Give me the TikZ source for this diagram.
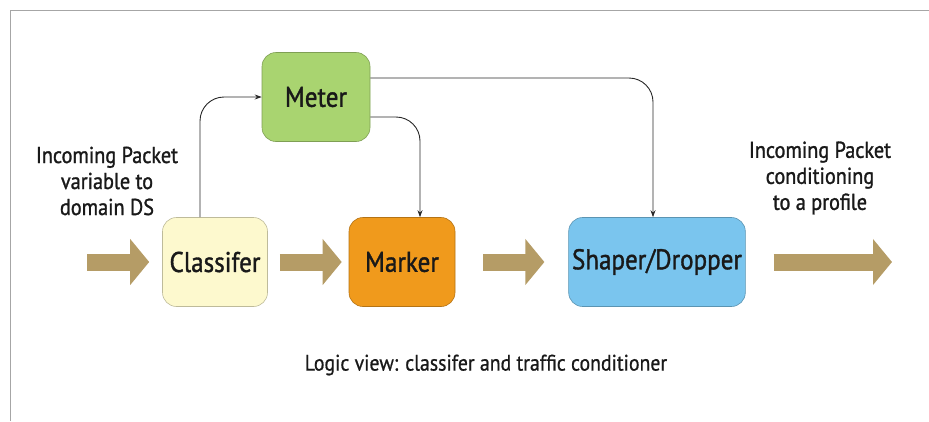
\documentclass[tikz,border=0pt]{standalone}
\usepackage{fontspec}
\setmainfont{PT Sans}[FakeBold=1.2, FakeStretch=0.88]
\newfontfamily\capfont{PT Sans}[FakeBold=0.7, FakeStretch=0.88]
\usetikzlibrary{arrows.meta}
\definecolor{meterg}{RGB}{169,212,112}
\definecolor{classy}{RGB}{253,249,206}
\definecolor{markero}{RGB}{240,154,28}
\definecolor{shaperb}{RGB}{122,197,238}
\definecolor{flowtan}{RGB}{181,156,102}
\definecolor{inkgray}{RGB}{40,40,40}

\tikzset{
  block/.style={draw=#1!75!black, fill=#1, line width=0.6pt, rounded corners=14pt,
    minimum height=89pt, text=black!90, font=\fontsize{28.5}{32}\selectfont},
  fat/.style={draw=flowtan, line width=17pt, -{Triangle[length=19pt,width=45pt]}},
  link/.style={draw=inkgray, line width=0.9pt, rounded corners=24pt, -{Stealth[length=7pt,width=5pt]}},
  sidetext/.style={align=center, text=black!90, font=\fontsize{23}{26}\selectfont}
}

\begin{document}
\begin{tikzpicture}[x=1pt, y=-1pt]
  \useasboundingbox (0,0) rectangle (929,421);
  \draw[gray!70, line width=0.8pt] (10,421) -- (10,10) -- (929,10);

  % the four stages
  \node[block=meterg, minimum width=108pt] (meter) at (316,97) {Meter};
  \node[block=classy, minimum width=105pt] (cls) at (215,262) {Classifer};
  \node[block=markero, minimum width=106pt] (mark) at (402,262) {Marker};
  \node[block=shaperb, minimum width=175pt] (shaper) at (657,262) {Shaper/Dropper};

  % packet flow
  \coordinate (in) at (87,262);
  \coordinate (out) at (892,262);
  \draw[fat, shorten >=13pt] (in) -- (cls);
  \draw[fat, shorten <=12pt, shorten >=7pt] (cls) -- (mark);
  \draw[fat, shorten <=28pt, shorten >=24pt] (mark) -- (shaper);
  \draw[fat, shorten <=28pt] (shaper) -- (out);

  % control paths
  \draw[link] ([xshift=-15pt]cls.north) |- (meter.west);
  \draw[link] ([yshift=-20pt]meter.east) -| ([xshift=18pt]mark.north);
  \draw[link] ([yshift=19pt]meter.east) -| ([xshift=-4pt]shaper.north);

  \node[sidetext] (inlbl) at (107,181) {Incoming Packet\\variable to\\domain DS};
  \node[sidetext] (outlbl) at (820,178) {Incoming Packet\\conditioning\\to a profile};
  \node[sidetext, font=\capfont\fontsize{22.5}{26}\selectfont] (caption) at (486,365) {Logic view: classifer and traffic conditioner};
\end{tikzpicture}
\end{document}
